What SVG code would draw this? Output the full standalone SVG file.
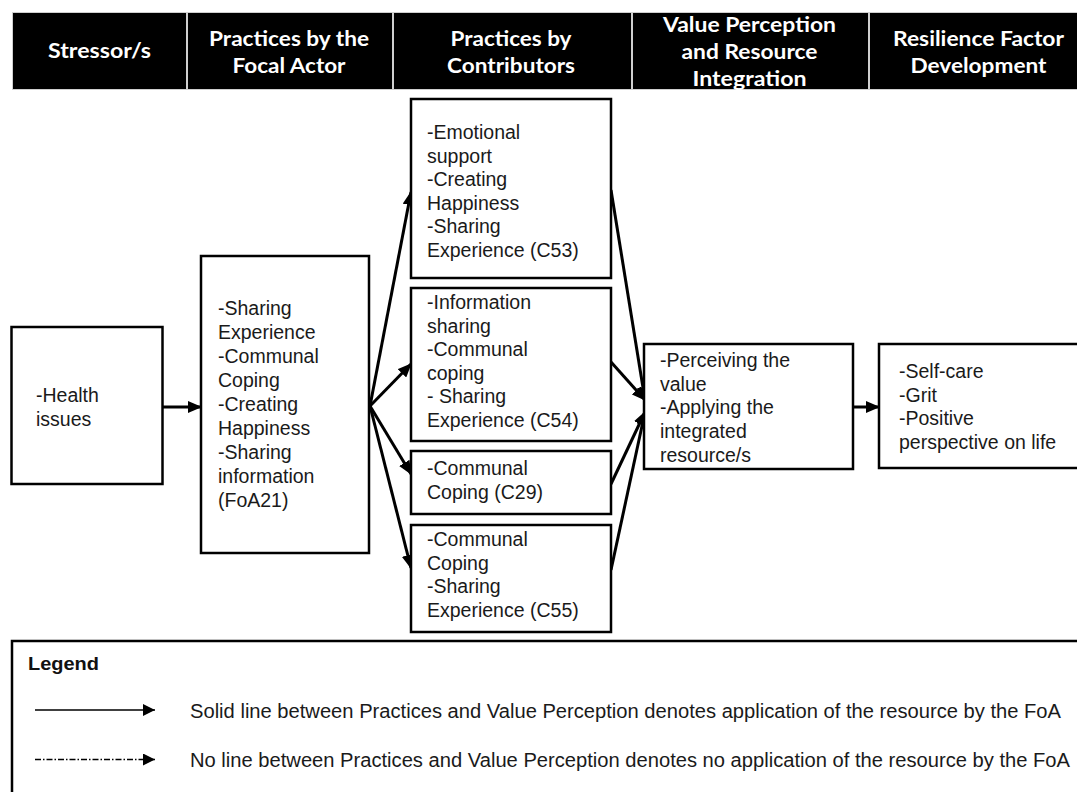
<svg xmlns="http://www.w3.org/2000/svg" width="1077" height="792" viewBox="0 0 1077 792">
  <style>
    .hdr { fill: #000; }
    .htxt { font-family: Lato, "Open Sans", sans-serif; font-weight: 700; font-size: 20px; fill: #fff; text-anchor: middle; }
    .box { fill: #fff; stroke: #000; stroke-width: 2.5; }
    .txt { font-family: "Liberation Sans", Arial, sans-serif; font-size: 19.5px; fill: #1a1a1a; }
    .conn { stroke: #000; stroke-width: 3; fill: none; marker-end: url(#arrow); }
    .leg { stroke: #000; stroke-width: 1.3; fill: none; marker-end: url(#arrowThin); }
    .legtxt { font-family: "Liberation Sans Narrow", "Liberation Sans", Arial, sans-serif; font-size: 20px; fill: #1a1a1a; }
  </style>
  <defs>
    <marker id="arrow" viewBox="0 0 14 12" markerUnits="userSpaceOnUse" markerWidth="14" markerHeight="12" refX="13" refY="6" orient="auto">
      <path d="M0,0 L14,6 L0,12 z" fill="#000"/>
    </marker>
    <marker id="arrowThin" viewBox="0 0 12 12" markerUnits="userSpaceOnUse" markerWidth="12" markerHeight="12" refX="12" refY="6" orient="auto">
      <path d="M0,0 L12,6 L0,12 z" fill="#000"/>
    </marker>
  </defs>

  <rect width="1077" height="792" fill="#fff"/>

  <!-- column header band -->
  <g id="header">
    <rect x="12" y="12" width="1070" height="78" fill="#cfcfcf"/>
    <rect class="hdr" x="13" y="13" width="173" height="76"/>
    <rect class="hdr" x="188" y="13" width="204" height="76"/>
    <rect class="hdr" x="394" y="13" width="237" height="76"/>
    <rect class="hdr" x="633" y="13" width="235" height="76"/>
    <rect class="hdr" x="870" y="13" width="212" height="76"/>
    <text class="htxt" x="99.5" y="58" textLength="103" lengthAdjust="spacingAndGlyphs">Stressor/s</text>
    <text class="htxt" x="289" y="45.5" textLength="160" lengthAdjust="spacingAndGlyphs">Practices by the</text>
    <text class="htxt" x="289" y="72.5" textLength="113" lengthAdjust="spacingAndGlyphs">Focal Actor</text>
    <text class="htxt" x="511" y="45.5" textLength="121" lengthAdjust="spacingAndGlyphs">Practices by</text>
    <text class="htxt" x="511" y="72.5" textLength="128" lengthAdjust="spacingAndGlyphs">Contributors</text>
    <text class="htxt" x="749.5" y="31.5" textLength="173" lengthAdjust="spacingAndGlyphs">Value Perception</text>
    <text class="htxt" x="749.5" y="58.5" textLength="136" lengthAdjust="spacingAndGlyphs">and Resource</text>
    <text class="htxt" x="749.5" y="85.5" textLength="114" lengthAdjust="spacingAndGlyphs">Integration</text>
    <text class="htxt" x="978.5" y="45.5" textLength="171" lengthAdjust="spacingAndGlyphs">Resilience Factor</text>
    <text class="htxt" x="978.5" y="72.5" textLength="136" lengthAdjust="spacingAndGlyphs">Development</text>
  </g>

  <!-- connectors -->
  <g id="connectors">
    <line class="conn" x1="163" y1="407" x2="201" y2="407"/>
    <line class="conn" x1="370" y1="406" x2="411" y2="192"/>
    <line class="conn" x1="370" y1="406" x2="411" y2="364"/>
    <line class="conn" x1="370" y1="406" x2="411" y2="474"/>
    <line class="conn" x1="370" y1="406" x2="411" y2="568"/>
    <line class="conn" x1="611" y1="190" x2="645" y2="400"/>
    <line class="conn" x1="611" y1="362" x2="645" y2="400"/>
    <line class="conn" x1="611" y1="484" x2="645" y2="412"/>
    <line class="conn" x1="611" y1="570" x2="645" y2="412"/>
    <line class="conn" x1="853" y1="407" x2="879" y2="407"/>
  </g>

  <g id="stressor">
    <rect class="box" x="11.5" y="327" width="151" height="157"/>
    <text class="txt" x="36"><tspan x="36" y="401.5">-Health</tspan><tspan x="36" y="426">issues</tspan></text>
  </g>

  <g id="focal-actor">
    <rect class="box" x="201" y="256" width="168" height="297"/>
    <text class="txt">
      <tspan x="218" y="315">-Sharing</tspan>
      <tspan x="218" y="339">Experience</tspan>
      <tspan x="218" y="363">-Communal</tspan>
      <tspan x="218" y="387">Coping</tspan>
      <tspan x="218" y="411">-Creating</tspan>
      <tspan x="218" y="435">Happiness</tspan>
      <tspan x="218" y="459">-Sharing</tspan>
      <tspan x="218" y="483">information</tspan>
      <tspan x="218" y="507">(FoA21)</tspan>
    </text>
  </g>

  <g id="contributor-c53">
    <rect class="box" x="411" y="99" width="200" height="179"/>
    <text class="txt">
      <tspan x="427" y="139">-Emotional</tspan>
      <tspan x="427" y="162.5">support</tspan>
      <tspan x="427" y="186">-Creating</tspan>
      <tspan x="427" y="209.5">Happiness</tspan>
      <tspan x="427" y="233">-Sharing</tspan>
      <tspan x="427" y="256.5">Experience (C53)</tspan>
    </text>
  </g>

  <g id="contributor-c54">
    <rect class="box" x="411" y="288" width="200" height="153"/>
    <text class="txt">
      <tspan x="427" y="309">-Information</tspan>
      <tspan x="427" y="332.5">sharing</tspan>
      <tspan x="427" y="356">-Communal</tspan>
      <tspan x="427" y="379.5">coping</tspan>
      <tspan x="427" y="403">- Sharing</tspan>
      <tspan x="427" y="426.5">Experience (C54)</tspan>
    </text>
  </g>

  <g id="contributor-c29">
    <rect class="box" x="411" y="451" width="200" height="63"/>
    <text class="txt">
      <tspan x="427" y="475">-Communal</tspan>
      <tspan x="427" y="499">Coping (C29)</tspan>
    </text>
  </g>

  <g id="contributor-c55">
    <rect class="box" x="411" y="525" width="200" height="107"/>
    <text class="txt">
      <tspan x="427" y="546">-Communal</tspan>
      <tspan x="427" y="569.5">Coping</tspan>
      <tspan x="427" y="593">-Sharing</tspan>
      <tspan x="427" y="616.5">Experience (C55)</tspan>
    </text>
  </g>

  <g id="value-perception">
    <rect class="box" x="644" y="344" width="209" height="125"/>
    <text class="txt">
      <tspan x="660" y="367">-Perceiving the</tspan>
      <tspan x="660" y="390.7">value</tspan>
      <tspan x="660" y="414.4">-Applying the</tspan>
      <tspan x="660" y="438.1">integrated</tspan>
      <tspan x="660" y="461.8">resource/s</tspan>
    </text>
  </g>

  <g id="resilience-factor">
    <rect class="box" x="879" y="344" width="210" height="124"/>
    <text class="txt">
      <tspan x="899" y="378">-Self-care</tspan>
      <tspan x="899" y="401.7">-Grit</tspan>
      <tspan x="899" y="425.4">-Positive</tspan>
      <tspan x="899" y="449">perspective on life</tspan>
    </text>
  </g>

  <!-- legend panel -->
  <g id="legend">
    <rect x="12" y="641" width="1080" height="170" fill="none" stroke="#000" stroke-width="2.5"/>
    <text x="28" y="670" font-family="Liberation Sans, Arial, sans-serif" font-weight="700" font-size="19" fill="#111" textLength="71" lengthAdjust="spacingAndGlyphs">Legend</text>
    <line class="leg" x1="35" y1="710" x2="155" y2="710"/>
    <text class="legtxt" x="190" y="718" textLength="871" lengthAdjust="spacingAndGlyphs">Solid line between Practices and Value Perception denotes application of the resource by the FoA</text>
    <line class="leg" x1="35" y1="759.5" x2="155" y2="759.5" stroke-dasharray="6 2 1.5 2"/>
    <text class="legtxt" x="190" y="766.5" textLength="880" lengthAdjust="spacingAndGlyphs">No line between Practices and Value Perception denotes no application of the resource by the FoA</text>
  </g>
</svg>
